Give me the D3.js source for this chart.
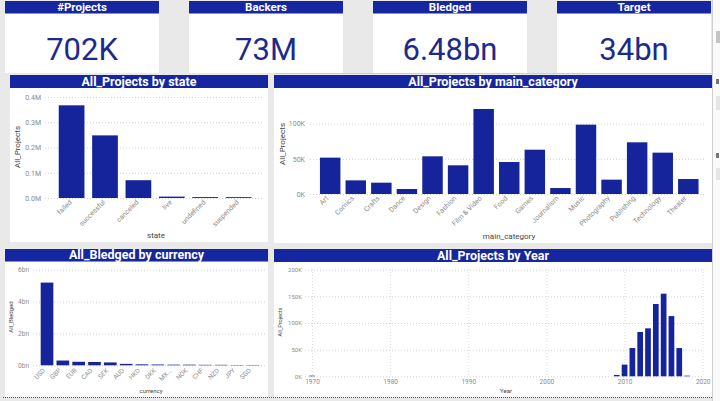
<!DOCTYPE html>
<html><head><meta charset="utf-8">
<script src="https://cdn.jsdelivr.net/npm/d3@7/dist/d3.min.js"></script>
<style>
html,body{margin:0;padding:0;background:#e9e9e9;}
svg{display:block;font-family:Roboto,"Noto Sans",sans-serif;}
</style></head><body>
<svg id="c" width="720" height="401"></svg>
<script>
// ---------- data ----------
const cardTitles = ["#Projects", "Backers", "Bledged", "Target"];
const cardValues = ["702K", "73M", "6.48bn", "34bn"];

const states = ["failed", "successful", "canceled", "live", "undefined", "suspended"];
const stateProjects = [367000, 248000, 70500, 5500, 3600, 3400];
const stateTicks = [0, 100000, 200000, 300000, 400000];
const stateTickLabels = ["0.0M", "0.1M", "0.2M", "0.3M", "0.4M"];

const categories = ["Art", "Comics", "Crafts", "Dance", "Design", "Fashion", "Film & Video", "Food", "Games", "Journalism", "Music", "Photography", "Publishing", "Technology", "Theater"];
const categoryProjects = [51700, 19400, 16100, 7100, 53600, 40800, 120900, 45500, 63000, 8500, 98600, 20400, 73500, 58800, 21300];
const categoryTicks = [0, 50000, 100000];
const categoryTickLabels = ["0K", "50K", "100K"];

const currencies = ["USD", "GBP", "EUR", "CAD", "SEK", "AUD", "HKD", "DKK", "MX...", "NOK", "CHF", "NZD", "JPY", "SGD"];
const currencyBledged = [5.19e9, 0.30e9, 0.22e9, 0.21e9, 0.18e9, 0.09e9, 0.06e9, 0.05e9, 0.04e9, 0.04e9, 0.03e9, 0.03e9, 0.02e9, 0.02e9];
const currencyTicks = [0, 2e9, 4e9, 6e9];
const currencyTickLabels = ["0bn", "2bn", "4bn", "6bn"];

const years = [1970, 2009, 2010, 2011, 2012, 2013, 2014, 2015, 2016, 2017, 2018];
const yearProjects = [1200, 2500, 21900, 53100, 83100, 90000, 135600, 155000, 113000, 53000, 1200];
const yearYTicks = [0, 50000, 100000, 150000, 200000];
const yearYTickLabels = ["0K", "50K", "100K", "150K", "200K"];
const yearXTicks = [1970, 1980, 1990, 2000, 2010, 2020];

// ---------- style ----------
const HEADER = "#1526a0";
const BAR = "#16249b";
const BIG = "#1c2a8e";
const TICK = "#8a8a8a";
const TITLE = "#444";

const svg = d3.select("#c");
svg.append("rect").attr("width", 720).attr("height", 401).attr("fill", "#e9e9e9");

// right cut-off slicer strip
svg.append("rect").attr("x", 712).attr("y", 0).attr("width", 8).attr("height", 401).attr("fill", "#fafafa");
svg.append("line").attr("x1", 712.5).attr("x2", 712.5).attr("y1", 0).attr("y2", 401).attr("stroke", "#d0d0d0");
[[716, 31, 4, 12, "#c4c4c4"], [716, 79, 3, 5, "#777"], [716, 96, 4, 14, "#e6e6e6"], [716, 153, 3, 5, "#777"], [716, 168, 4, 12, "#e6e6e6"]]
  .forEach(d => svg.append("rect").attr("x", d[0]).attr("y", d[1]).attr("width", d[2]).attr("height", d[3]).attr("fill", d[4]));

// ---------- cards ----------
const cardX = [5, 189, 373, 557];
cardTitles.forEach((t, i) => {
  const g = svg.append("g").attr("transform", `translate(${cardX[i]},0)`);
  g.append("rect").attr("x", 0).attr("y", 13).attr("width", 154).attr("height", 60).attr("fill", "#fff");
  g.append("rect").attr("x", 0).attr("y", 1).attr("width", 154).attr("height", 12.5).attr("fill", HEADER);
  g.append("text").attr("x", 77).attr("y", 11.3).attr("text-anchor", "middle")
    .attr("fill", "#fff").attr("font-size", 11.5).attr("font-weight", 700).text(t);
  g.append("text").attr("x", 77).attr("y", 59.5).attr("text-anchor", "middle")
    .attr("fill", BIG).attr("font-size", 31).text(cardValues[i]);
});
svg.append("line").attr("x1", 275).attr("x2", 712).attr("y1", 73.5).attr("y2", 73.5).attr("stroke", "#c3cdf2");

// ---------- panel helper ----------
function panel(x, y0, w, headerBottom, bottom, title) {
  svg.append("rect").attr("x", x).attr("y", headerBottom).attr("width", w).attr("height", bottom - headerBottom).attr("fill", "#fff");
  svg.append("rect").attr("x", x).attr("y", y0).attr("width", w).attr("height", headerBottom - y0).attr("fill", HEADER);
  svg.append("text").attr("x", x + w / 2).attr("y", headerBottom - 2.2).attr("text-anchor", "middle")
    .attr("fill", "#fff").attr("font-size", 12.5).attr("font-weight", 700).text(title);
}

function bandChart(opt) {
  const x = d3.scaleBand().domain(opt.cats).range(opt.xr).paddingInner(opt.pad).paddingOuter(opt.pad / 2);
  const y = d3.scaleLinear().domain(opt.yd).range(opt.yr);
  const g = svg.append("g");
  g.selectAll("line.grid").data(opt.ticks).join("line")
    .attr("x1", opt.gx[0]).attr("x2", opt.gx[1])
    .attr("y1", d => y(d) + 0.5).attr("y2", d => y(d) + 0.5)
    .attr("stroke", "#cfcfcf").attr("stroke-dasharray", "1,2");
  const ya = d3.axisLeft(y).tickValues(opt.ticks).tickFormat((d, i) => opt.tickLabels[i]).tickSize(0).tickPadding(0);
  const yg = g.append("g").attr("transform", `translate(${opt.yLabelX},0)`).call(ya);
  yg.select(".domain").remove();
  yg.selectAll("text").attr("fill", TICK).attr("font-size", opt.tickSize).attr("font-family", "Roboto, sans-serif");
  g.selectAll("rect.bar").data(opt.vals).join("rect")
    .attr("x", (d, i) => x(opt.cats[i])).attr("width", x.bandwidth())
    .attr("y", d => y(d)).attr("height", d => y(0) - y(d)).attr("fill", BAR);
  const xa = d3.axisBottom(x).tickSize(0).tickPadding(0);
  const xg = g.append("g").attr("transform", `translate(0,${y(0)})`).call(xa);
  xg.select(".domain").remove();
  xg.selectAll("text").attr("fill", TICK).attr("font-size", opt.tickSize).attr("font-family", "Roboto, sans-serif")
    .attr("text-anchor", "end").attr("dy", "0.35em").attr("y", 0)
    .attr("transform", `translate(${opt.lblDx},${opt.lblDy}) rotate(-45)`);
  g.append("text").attr("x", opt.xTitle[0]).attr("y", opt.xTitle[1]).attr("text-anchor", "middle")
    .attr("fill", TITLE).attr("font-size", opt.titleSize).text(opt.xTitleText);
  g.append("text").attr("transform", `translate(${opt.yTitle[0]},${opt.yTitle[1]}) rotate(-90)`).attr("text-anchor", "middle")
    .attr("fill", TITLE).attr("font-size", opt.titleSize).text(opt.yTitleText);
}

// ---------- state ----------
panel(10, 75, 258, 88, 242, "All_Projects by state");
bandChart({
  cats: states, vals: stateProjects, xr: [54.9, 255.3], pad: 0.23,
  yd: [0, 400000], yr: [198, 97], ticks: stateTicks, tickLabels: stateTickLabels,
  gx: [45, 263], yLabelX: 41, tickSize: 7, lblDx: -1, lblDy: 3,
  xTitle: [156, 238], xTitleText: "state", yTitle: [20, 147], yTitleText: "All_Projects", titleSize: 8
});

// ---------- category ----------
panel(274, 75, 438, 88, 243, "All_Projects by main_category");
bandChart({
  cats: categories, vals: categoryProjects, xr: [317.4, 701.1], pad: 0.2,
  yd: [0, 125000], yr: [194, 106.1], ticks: categoryTicks, tickLabels: categoryTickLabels,
  gx: [310, 704], yLabelX: 305, tickSize: 7, lblDx: -3, lblDy: 3,
  xTitle: [509, 239], xTitleText: "main_category", yTitle: [285, 144], yTitleText: "All_Projects", titleSize: 8
});

// ---------- currency ----------
panel(5, 249, 263, 261.5, 397, "All_Bledged by currency");
bandChart({
  cats: currencies, vals: currencyBledged, xr: [39.1, 260.7], pad: 0.2,
  yd: [0, 6e9], yr: [365.3, 269.7], ticks: currencyTicks, tickLabels: currencyTickLabels,
  gx: [33, 265], yLabelX: 29, tickSize: 6.5, lblDx: -3, lblDy: 4,
  xTitle: [151, 393], xTitleText: "currency", yTitle: [13, 317], yTitleText: "All_Bledged", titleSize: 6
});

// ---------- year ----------
panel(274, 249, 438, 262, 397, "All_Projects by Year");
(function () {
  const x = d3.scaleLinear().domain([1970, 2020]).range([312, 702.7]);
  const y = d3.scaleLinear().domain([0, 200000]).range([376.3, 269.7]);
  const g = svg.append("g");
  g.selectAll("line.h").data(yearYTicks).join("line")
    .attr("x1", 305).attr("x2", 704).attr("y1", d => y(d) + 0.5).attr("y2", d => y(d) + 0.5)
    .attr("stroke", "#d2d2d2").attr("stroke-dasharray", "1,2");
  g.selectAll("line.v").data(yearXTicks).join("line")
    .attr("x1", d => x(d) + 0.5).attr("x2", d => x(d) + 0.5).attr("y1", 269).attr("y2", 377)
    .attr("stroke", "#dcdcdc").attr("stroke-dasharray", "1,2");
  const ya = d3.axisLeft(y).tickValues(yearYTicks).tickFormat((d, i) => yearYTickLabels[i]).tickSize(0).tickPadding(0);
  const yg = g.append("g").attr("transform", "translate(302,0)").call(ya);
  yg.select(".domain").remove();
  yg.selectAll("text").attr("fill", TICK).attr("font-size", 6).attr("font-family", "Roboto, sans-serif");
  const hw = 0.365;
  g.selectAll("rect.bar").data(yearProjects).join("rect")
    .attr("x", (d, i) => x(years[i] - hw)).attr("width", (d, i) => x(years[i] + hw) - x(years[i] - hw))
    .attr("y", d => y(d)).attr("height", d => y(0) - y(d)).attr("fill", BAR);
  const xa = d3.axisBottom(x).tickValues(yearXTicks).tickFormat(d3.format("d")).tickSize(0).tickPadding(3);
  const xg = g.append("g").attr("transform", `translate(0,${y(0)})`).call(xa);
  xg.select(".domain").remove();
  xg.selectAll("text").attr("fill", TICK).attr("font-size", 6.5).attr("font-family", "Roboto, sans-serif");
  g.append("text").attr("x", 506).attr("y", 393).attr("text-anchor", "middle").attr("fill", TITLE).attr("font-size", 6).text("Year");
  g.append("text").attr("transform", "translate(282,322) rotate(-90)").attr("text-anchor", "middle")
    .attr("fill", TITLE).attr("font-size", 5.5).text("All_Projects");
})();

// bottom dotted border
svg.append("line").attr("x1", 3).attr("x2", 712).attr("y1", 397.5).attr("y2", 397.5)
  .attr("stroke", "#555").attr("stroke-dasharray", "1,1");
</script>
</body></html>
